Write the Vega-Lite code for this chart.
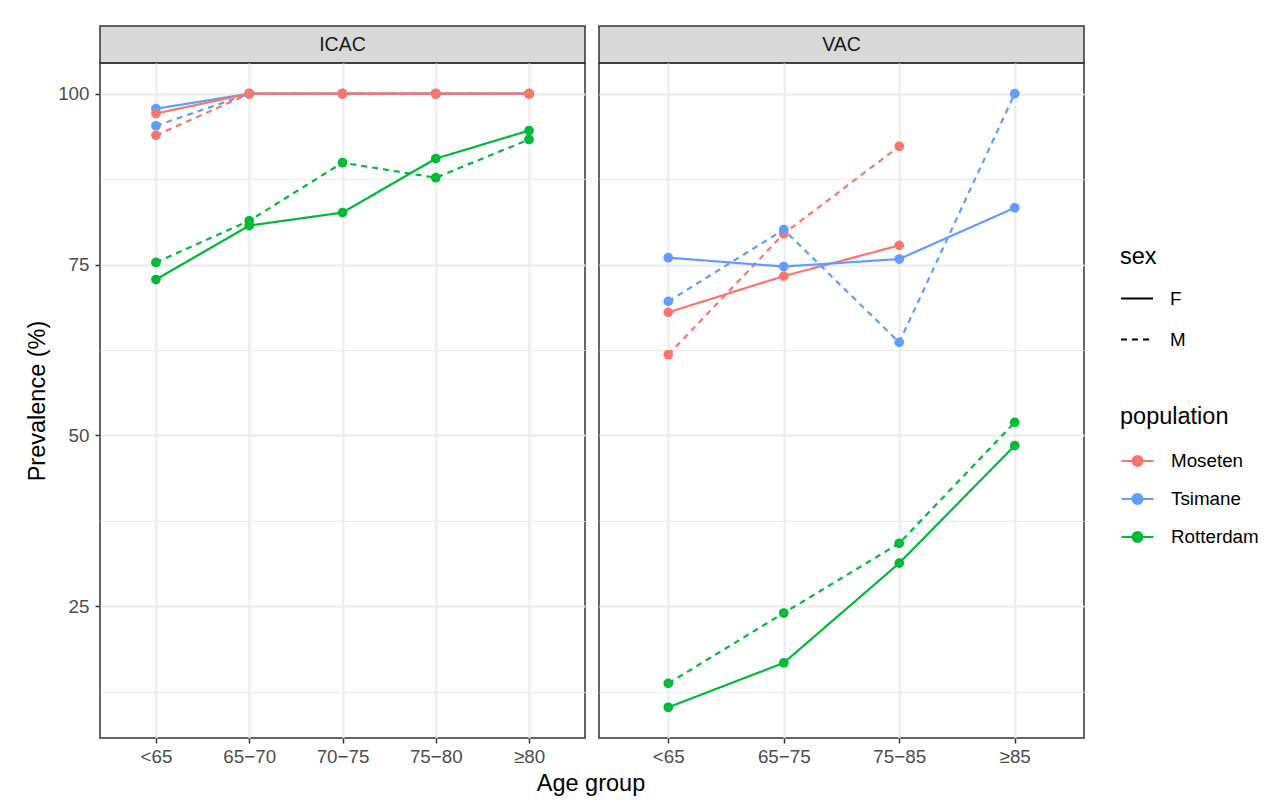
{
  "$schema": "https://vega.github.io/schema/vega-lite/v6.json",
  "background": "white",
  "padding": {"left": 24, "top": 25, "right": 5, "bottom": 5},
  "title": {"text": "Age group", "orient": "bottom", "anchor": "middle", "frame": "group", "offset": 5, "dx": 491, "fontSize": 23.5, "font": "Liberation Sans", "fontWeight": "normal", "color": "#000000"},
  "data": {"values": [
    {"panel": "ICAC", "age": "<65", "population": "Tsimane", "sex": "F", "value": 97.8},
    {"panel": "ICAC", "age": "65−70", "population": "Tsimane", "sex": "F", "value": 100},
    {"panel": "ICAC", "age": "70−75", "population": "Tsimane", "sex": "F", "value": 100},
    {"panel": "ICAC", "age": "75−80", "population": "Tsimane", "sex": "F", "value": 100},
    {"panel": "ICAC", "age": "≥80", "population": "Tsimane", "sex": "F", "value": 100},
    {"panel": "ICAC", "age": "<65", "population": "Tsimane", "sex": "M", "value": 95.3},
    {"panel": "ICAC", "age": "65−70", "population": "Tsimane", "sex": "M", "value": 100},
    {"panel": "ICAC", "age": "70−75", "population": "Tsimane", "sex": "M", "value": 100},
    {"panel": "ICAC", "age": "75−80", "population": "Tsimane", "sex": "M", "value": 100},
    {"panel": "ICAC", "age": "≥80", "population": "Tsimane", "sex": "M", "value": 100},
    {"panel": "ICAC", "age": "<65", "population": "Moseten", "sex": "F", "value": 97.1},
    {"panel": "ICAC", "age": "65−70", "population": "Moseten", "sex": "F", "value": 100},
    {"panel": "ICAC", "age": "70−75", "population": "Moseten", "sex": "F", "value": 100},
    {"panel": "ICAC", "age": "75−80", "population": "Moseten", "sex": "F", "value": 100},
    {"panel": "ICAC", "age": "≥80", "population": "Moseten", "sex": "F", "value": 100},
    {"panel": "ICAC", "age": "<65", "population": "Moseten", "sex": "M", "value": 93.9},
    {"panel": "ICAC", "age": "65−70", "population": "Moseten", "sex": "M", "value": 100},
    {"panel": "ICAC", "age": "70−75", "population": "Moseten", "sex": "M", "value": 100},
    {"panel": "ICAC", "age": "75−80", "population": "Moseten", "sex": "M", "value": 100},
    {"panel": "ICAC", "age": "≥80", "population": "Moseten", "sex": "M", "value": 100},
    {"panel": "ICAC", "age": "<65", "population": "Rotterdam", "sex": "F", "value": 72.8},
    {"panel": "ICAC", "age": "65−70", "population": "Rotterdam", "sex": "F", "value": 80.7},
    {"panel": "ICAC", "age": "70−75", "population": "Rotterdam", "sex": "F", "value": 82.6},
    {"panel": "ICAC", "age": "75−80", "population": "Rotterdam", "sex": "F", "value": 90.5},
    {"panel": "ICAC", "age": "≥80", "population": "Rotterdam", "sex": "F", "value": 94.6},
    {"panel": "ICAC", "age": "<65", "population": "Rotterdam", "sex": "M", "value": 75.3},
    {"panel": "ICAC", "age": "65−70", "population": "Rotterdam", "sex": "M", "value": 81.4},
    {"panel": "ICAC", "age": "70−75", "population": "Rotterdam", "sex": "M", "value": 89.9},
    {"panel": "ICAC", "age": "75−80", "population": "Rotterdam", "sex": "M", "value": 87.7},
    {"panel": "ICAC", "age": "≥80", "population": "Rotterdam", "sex": "M", "value": 93.3},
    {"panel": "VAC", "age": "<65", "population": "Moseten", "sex": "F", "value": 68.0},
    {"panel": "VAC", "age": "65−75", "population": "Moseten", "sex": "F", "value": 73.3},
    {"panel": "VAC", "age": "75−85", "population": "Moseten", "sex": "F", "value": 77.8},
    {"panel": "VAC", "age": "<65", "population": "Moseten", "sex": "M", "value": 61.8},
    {"panel": "VAC", "age": "65−75", "population": "Moseten", "sex": "M", "value": 79.5},
    {"panel": "VAC", "age": "75−85", "population": "Moseten", "sex": "M", "value": 92.3},
    {"panel": "VAC", "age": "<65", "population": "Tsimane", "sex": "F", "value": 76.0},
    {"panel": "VAC", "age": "65−75", "population": "Tsimane", "sex": "F", "value": 74.7},
    {"panel": "VAC", "age": "75−85", "population": "Tsimane", "sex": "F", "value": 75.8},
    {"panel": "VAC", "age": "≥85", "population": "Tsimane", "sex": "F", "value": 83.3},
    {"panel": "VAC", "age": "<65", "population": "Tsimane", "sex": "M", "value": 69.6},
    {"panel": "VAC", "age": "65−75", "population": "Tsimane", "sex": "M", "value": 80.1},
    {"panel": "VAC", "age": "75−85", "population": "Tsimane", "sex": "M", "value": 63.6},
    {"panel": "VAC", "age": "≥85", "population": "Tsimane", "sex": "M", "value": 100},
    {"panel": "VAC", "age": "<65", "population": "Rotterdam", "sex": "F", "value": 10.2},
    {"panel": "VAC", "age": "65−75", "population": "Rotterdam", "sex": "F", "value": 16.7},
    {"panel": "VAC", "age": "75−85", "population": "Rotterdam", "sex": "F", "value": 31.3},
    {"panel": "VAC", "age": "≥85", "population": "Rotterdam", "sex": "F", "value": 48.5},
    {"panel": "VAC", "age": "<65", "population": "Rotterdam", "sex": "M", "value": 13.7},
    {"panel": "VAC", "age": "65−75", "population": "Rotterdam", "sex": "M", "value": 24.0},
    {"panel": "VAC", "age": "75−85", "population": "Rotterdam", "sex": "M", "value": 34.2},
    {"panel": "VAC", "age": "≥85", "population": "Rotterdam", "sex": "M", "value": 51.9}
  ]},
  "spacing": 12,
  "hconcat": [
    {
      "bounds": "flush",
      "spacing": 0,
      "vconcat": [
        {
          "width": 485, "height": 37,
          "view": {"fill": "#D9D9D9", "stroke": "#333333", "strokeWidth": 1.5},
          "data": {"values": [{"panel": "ICAC"}]},
          "mark": {"type": "text", "fontSize": 19.5, "font": "Liberation Sans", "color": "#1A1A1A", "baseline": "middle", "align": "center"},
          "encoding": {"text": {"field": "panel"}}
        },
        {
          "width": 485, "height": 675,
          "transform": [{"filter": "datum.panel === 'ICAC'"}],
          "resolve": {"scale": {"y": "independent"}, "axis": {"y": "independent"}},
          "layer": [
            {
              "mark": {"type": "line", "strokeWidth": 2.2},
              "encoding": {
                "x": {"field": "age", "type": "ordinal", "sort": ["<65", "65−70", "70−75", "75−80", "≥80"],
                      "scale": {"type": "point", "padding": 0.6},
                      "axis": {"title": null, "labelAngle": 0, "grid": true, "labelPadding": 4}},
                "y": {"field": "value", "type": "quantitative", "scale": {"domain": [5.71, 104.49], "nice": false, "zero": false},
                      "axis": {"orient": "right", "values": [12.5, 37.5, 62.5, 87.5], "grid": true, "gridWidth": 1, "gridColor": "#EBEBEB", "labels": false, "ticks": false, "domain": false, "title": null}},
                "color": {"field": "population", "type": "nominal", "scale": {"domain": ["Moseten", "Tsimane", "Rotterdam"], "range": ["#F8766D", "#619CFF", "#00BA38"]}},
                "strokeDash": {"field": "sex", "type": "nominal", "scale": {"domain": ["F", "M"], "range": [[1, 0], [6, 5]]},
                  "legend": {"title": "sex", "orient": "none", "legendX": 1020, "legendY": 219, "rowPadding": 14, "titlePadding": 13}}
              }
            },
            {
              "mark": {"type": "point", "filled": true, "size": 95, "opacity": 1},
              "encoding": {
                "x": {"field": "age", "type": "ordinal", "sort": ["<65", "65−70", "70−75", "75−80", "≥80"]},
                "y": {"field": "value", "type": "quantitative", "scale": {"domain": [5.71, 104.49], "nice": false, "zero": false},
                      "axis": {"values": [25, 50, 75, 100], "grid": true, "title": "Prevalence (%)", "labelPadding": 6, "titlePadding": 8}},
                "color": {"field": "population", "type": "nominal"}
              }
            }
          ]
        }
      ]
    },
    {
      "bounds": "flush",
      "spacing": 0,
      "vconcat": [
        {
          "width": 485, "height": 37,
          "view": {"fill": "#D9D9D9", "stroke": "#333333", "strokeWidth": 1.5},
          "data": {"values": [{"panel": "VAC"}]},
          "mark": {"type": "text", "fontSize": 19.5, "font": "Liberation Sans", "color": "#1A1A1A", "baseline": "middle", "align": "center"},
          "encoding": {"text": {"field": "panel"}}
        },
        {
          "width": 485, "height": 675,
          "transform": [{"filter": "datum.panel === 'VAC'"}],
          "resolve": {"scale": {"y": "independent"}, "axis": {"y": "independent"}},
          "layer": [
            {
              "mark": {"type": "line", "strokeWidth": 2.2},
              "encoding": {
                "x": {"field": "age", "type": "ordinal", "sort": ["<65", "65−75", "75−85", "≥85"],
                      "scale": {"type": "point", "padding": 0.6},
                      "axis": {"title": null, "labelAngle": 0, "grid": true, "labelPadding": 4}},
                "y": {"field": "value", "type": "quantitative", "scale": {"domain": [5.71, 104.49], "nice": false, "zero": false},
                      "axis": {"orient": "right", "values": [12.5, 37.5, 62.5, 87.5], "grid": true, "gridWidth": 1, "gridColor": "#EBEBEB", "labels": false, "ticks": false, "domain": false, "title": null}},
                "color": {"field": "population", "type": "nominal"},
                "strokeDash": {"field": "sex", "type": "nominal"}
              }
            },
            {
              "mark": {"type": "point", "filled": true, "size": 95, "opacity": 1},
              "encoding": {
                "x": {"field": "age", "type": "ordinal", "sort": ["<65", "65−75", "75−85", "≥85"]},
                "y": {"field": "value", "type": "quantitative", "scale": {"domain": [5.71, 104.49], "nice": false, "zero": false},
                      "axis": {"values": [25, 50, 75, 100], "grid": true, "title": null, "labels": false, "ticks": false}},
                "color": {"field": "population", "type": "nominal",
                  "legend": {"title": "population", "orient": "none", "legendX": 1020, "legendY": 379, "rowPadding": 10, "titlePadding": 15,
                    "symbolType": "M-1,0L1,0M-0.31,0A0.31,0.31,0,1,0,0.31,0A0.31,0.31,0,1,0,-0.31,0Z",
                    "symbolSize": 1024, "symbolStrokeWidth": 2.2,
                    "encode": {"symbols": {"update": {"fill": {"scale": "color", "field": "value"}, "stroke": {"scale": "color", "field": "value"}, "opacity": {"value": 1}}}}}}
              }
            }
          ]
        }
      ]
    }
  ],
  "resolve": {"legend": {"color": "shared", "strokeDash": "shared"}},
  "config": {
    "font": "Liberation Sans",
    "view": {"stroke": "#333333", "strokeWidth": 1.5},
    "axis": {
      "labelFont": "Liberation Sans", "titleFont": "Liberation Sans",
      "labelColor": "#4D4D4D", "labelFontSize": 18.8,
      "titleColor": "#000000", "titleFontSize": 23.5, "titleFontWeight": "normal",
      "tickColor": "#333333", "tickWidth": 1.5, "tickSize": 5,
      "domain": false, "gridColor": "#EBEBEB", "gridWidth": 2
    },
    "legend": {
      "titleFont": "Liberation Sans", "labelFont": "Liberation Sans",
      "titleFontSize": 23.5, "titleFontWeight": "normal", "titleColor": "#000000",
      "labelFontSize": 18.8, "labelColor": "#000000",
      "labelOffset": 16,
      "symbolType": "stroke", "symbolSize": 1024, "symbolStrokeWidth": 2, "symbolStrokeColor": "#000000"
    }
  }
}
